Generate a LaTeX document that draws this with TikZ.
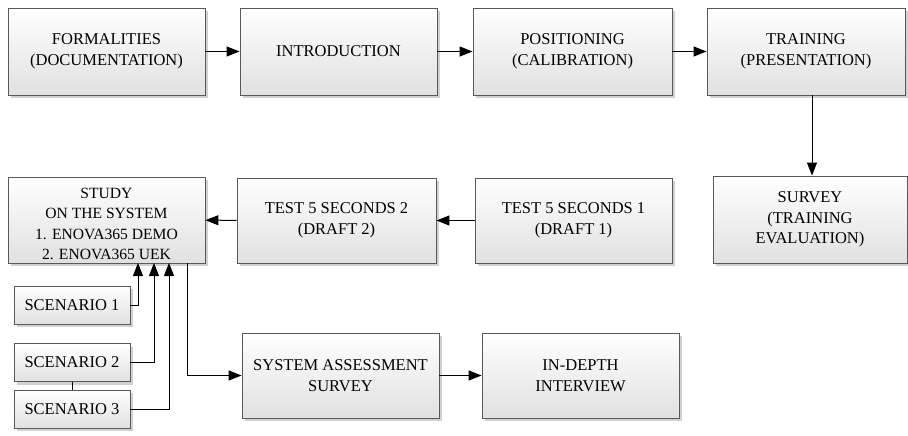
\documentclass[tikz,border=0pt]{standalone}
\usepackage{fontspec}
\setmainfont{Liberation Serif}
\usetikzlibrary{arrows.meta,shadows,calc}
\begin{document}
\begin{tikzpicture}[x=1pt,y=-1pt,
  box/.style={draw=black!65, line width=0.9pt, top color=white, bottom color=black!12,
    align=center, inner sep=0pt, font=\fontsize{16.5}{20.5}\selectfont,
    drop shadow={shadow xshift=3pt, shadow yshift=-3pt, fill=black!18, opacity=1}},
  big/.style={box, minimum width=197pt, minimum height=87pt},
  small/.style={box, minimum width=116pt, minimum height=38pt},
  arr/.style={draw=black, line width=1pt, -{Triangle[length=13pt,width=10pt]}},
  ln/.style={draw=black, line width=1pt}]
\useasboundingbox (0,0) rectangle (908,436);
\node[big] (form) at (106.5,51.5) {FORMALITIES\\(DOCUMENTATION)};
\node[big] (intro) at (338.5,51.5) {INTRODUCTION};
\node[big, minimum width=199pt] (pos) at (572.5,51.5) {POSITIONING\\(CALIBRATION)};
\node[big, minimum width=198pt] (train) at (806,51.5) {TRAINING\\(PRESENTATION)};
\node[big, minimum width=194pt] (survey) at (810,219.5) {SURVEY\\(TRAINING\\EVALUATION)};
\node[big, minimum height=86pt, font=\fontsize{15.6}{20.5}\selectfont] (study) at (106.5,220) {\rule{0pt}{18pt}STUDY\\ON THE SYSTEM\\1. ENOVA365 DEMO\\2. ENOVA365 UEK};
\node[big, minimum width=199pt, minimum height=85pt] (test2) at (336.5,220.5) {TEST 5 SECONDS 2\\(DRAFT 2)};
\node[big, minimum height=85pt] (test1) at (573.5,220.5) {TEST 5 SECONDS 1\\(DRAFT 1)};
\node[small] (sc1) at (72,305) {SCENARIO 1};
\node[small] (sc2) at (72,362.5) {SCENARIO 2};
\node[small] (sc3) at (72,409) {SCENARIO 3};
\node[big, minimum height=85pt] (sas) at (340.5,375.5) {SYSTEM ASSESSMENT\\SURVEY};
\node[big, minimum height=85pt] (idi) at (580.5,375.5) {IN-DEPTH\\INTERVIEW};
\coordinate (tdown) at (812,95);
\coordinate (s1x) at (138,263);
\coordinate (s2x) at (154,263);
\coordinate (s3x) at (169,263);
\coordinate (sdx) at (187,263);
\draw[arr] (form) -- (intro);
\draw[arr] (intro) -- (pos);
\draw[arr] (pos) -- (train);
\draw[arr] (tdown) -- (tdown |- survey.north);
\draw[arr] (test1) -- (test2);
\draw[arr] (test2) -- (study);
\draw[arr] (sc1.east) -| (s1x);
\draw[arr] (sc2.east) -| (s2x);
\draw[arr] (sc3.east) -| (s3x);
\draw[ln] (sc2) -- (sc3);
\draw[arr] (sdx) |- (sas.west);
\draw[arr] (sas) -- (idi);
\end{tikzpicture}
\end{document}
